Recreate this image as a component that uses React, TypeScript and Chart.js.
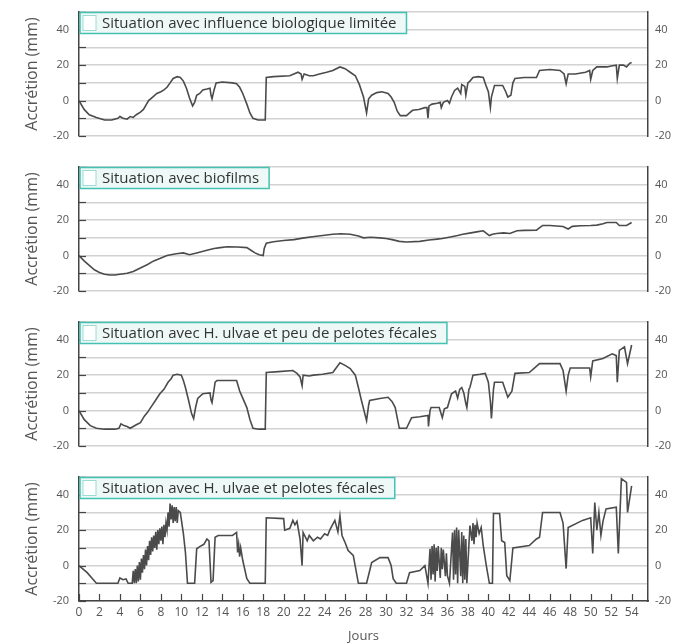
import React, { useEffect, useRef } from 'react';
import { Chart, registerables } from 'chart.js';

Chart.register(...registerables);

const FONT = '"Open Sans", "DejaVu Sans", sans-serif';

const panelTitles = [
  'Situation avec influence biologique limitée',
  'Situation avec biofilms',
  'Situation avec H. ulvae et peu de pelotes fécales',
  'Situation avec H. ulvae et pelotes fécales',
];

const yLabelValues = [-20, 0, 20, 40];
const yAxisTitle = 'Accrétion (mm)';
const xAxisTitle = 'Jours';

// Panel 1 : influence biologique limitée
const p1Days = [0, 0.5, 1, 1.7, 2.5, 3.2, 3.8, 4, 4.3, 4.7, 5, 5.3, 5.6, 6, 6.3, 6.6, 6.8, 7.2, 7.6, 8, 8.3, 8.6, 8.9, 9.2, 9.6, 9.9, 10.2, 10.5, 10.8, 11.1, 11.3, 11.5, 11.8, 12.1, 12.5, 12.8, 12.9, 13, 13.2, 13.4, 14, 15, 15.4, 15.7, 16, 16.4, 16.7, 17, 17.5, 18.2, 18.3, 19, 20.6, 21.4, 21.7, 21.8, 22, 22.5, 22.9, 23.5, 24.2, 24.8, 25.5, 26, 26.5, 27, 27.4, 27.8, 28.1, 28.3, 28.6, 29.1, 29.6, 30.2, 30.5, 30.8, 31.1, 31.4, 32, 32.3, 32.6, 33.2, 33.8, 34, 34.1, 34.2, 34.5, 35, 35.3, 35.4, 35.6, 36, 36.2, 36.4, 36.7, 37, 37.3, 37.4, 37.7, 37.8, 38, 38.2, 38.5, 39, 39.5, 39.8, 40, 40.2, 40.3, 40.6, 41, 41.4, 41.7, 41.9, 42.2, 42.4, 42.6, 43.5, 44.7, 45, 46, 47, 47.4, 47.6, 47.8, 48.5, 49.5, 49.9, 50, 50.2, 50.6, 51.2, 51.6, 52, 52.5, 52.6, 52.8, 53.2, 53.5, 53.8, 54];
const p1Values = [0, -5, -8, -9.5, -11, -11, -10, -9, -10, -10.5, -9, -9.5, -8, -6.5, -5, -2, 0, 2, 4, 5, 6, 7.5, 10, 12.5, 13.5, 13, 11, 7, 1.5, -3, -1, 3, 4, 6, 6.5, 7, 3, 1, 6, 10, 10.5, 10, 9.5, 7.5, 4, -2, -7, -10, -11, -11, 13, 13.5, 14, 16, 15, 12, 15, 14, 14, 15, 16, 17, 19, 18, 16, 14, 9, 2, -7, 1, 3, 4.5, 5, 4, 2, -1, -6, -8.5, -8.5, -7, -5.5, -5, -4, -4, -10, -3, -2, -1.5, -1, -4, -1, 0, -1.5, 2, 5.7, 7, 4, 9, 8, 3, 10, 11, 13, 13.5, 13, 8, 5, -4, 2, 8.5, 8.5, 8.5, 5, 2, 3, 10, 12.5, 13, 13, 17, 17.5, 17, 15, 9.5, 15, 15, 16, 17, 12, 17, 19, 19, 19, 19.5, 20, 12.5, 20, 20, 19, 21, 21.5];

// Panel 2 : biofilms
const p2Days = [0, 0.5, 1, 1.5, 2, 2.5, 3, 3.5, 4, 4.7, 5.3, 6, 6.7, 7.3, 7.9, 8.6, 9.5, 10.2, 10.8, 11.5, 12.5, 13.2, 13.8, 14.5, 15.5, 16.4, 16.8, 17.2, 17.6, 18, 18.1, 18.3, 19, 20, 21, 22, 23, 24, 24.8, 25.6, 26.5, 27.3, 27.8, 28.5, 29.4, 30, 30.6, 31.3, 32, 33.3, 34.2, 35, 35.5, 36.3, 37, 37.5, 38.3, 39, 39.5, 40.1, 40.4, 40.8, 41.5, 42.1, 42.8, 43.5, 44.7, 45.3, 46, 47.3, 47.8, 48.2, 49, 50, 50.6, 51.2, 51.6, 52.5, 52.8, 53.5, 54];
const p2Values = [0, -3, -5.5, -8, -9.5, -10.5, -11, -11, -10.5, -10, -9, -7, -5, -3, -1.7, 0, 1, 1.5, 0.5, 1.5, 3, 4, 4.5, 5, 4.8, 4.5, 3, 1.5, 0.5, 0, 4, 7, 7.8, 8.5, 9, 10, 10.8, 11.5, 12, 12.3, 12, 11, 10, 10.3, 10, 9.6, 9, 8, 7.7, 8, 8.8, 9.3, 9.6, 10.5, 11.3, 12, 12.8, 13.5, 14, 11.3, 12, 12.5, 12.8, 12.5, 14, 14.2, 14.3, 17, 17, 16.4, 15, 16.5, 16.8, 17, 17.2, 18, 18.7, 18.7, 17, 17, 18.7];

// Panel 3 : H. ulvae et peu de pelotes fécales
const p3Days = [0, 0.5, 1.1, 1.7, 2.5, 3.5, 3.9, 4.1, 4.4, 4.7, 5, 5.3, 5.6, 6, 6.4, 6.7, 7, 7.5, 7.9, 8.3, 8.7, 9, 9.2, 9.6, 10, 10.2, 10.4, 10.7, 11, 11.2, 11.4, 11.6, 12.1, 12.5, 12.8, 12.9, 13, 13.2, 13.3, 13.5, 14.5, 15.4, 15.6, 15.7, 16, 16.4, 16.7, 17, 17.6, 18.2, 18.3, 19.5, 20.9, 21.3, 21.6, 21.8, 21.9, 22.5, 22.9, 23.8, 24.8, 25.5, 26, 26.5, 27, 27.3, 27.6, 28.1, 28.3, 28.4, 29.4, 30.2, 30.6, 30.9, 31.3, 32, 32.5, 33.3, 34.1, 34.15, 34.3, 34.4, 35.2, 35.5, 35.7, 36, 36.4, 36.8, 37, 37.2, 37.4, 37.6, 37.8, 37.9, 38.1, 38.2, 38.5, 39.2, 39.7, 40, 40.2, 40.3, 40.5, 40.6, 41.4, 41.9, 42.3, 42.6, 44, 45, 47, 47.3, 47.6, 47.8, 48, 49.9, 50, 50.2, 51.2, 52.1, 52.5, 52.6, 52.8, 53.3, 53.6, 54];
const p3Values = [0, -5, -8.5, -10, -10.5, -10.5, -10, -7.5, -8.5, -9, -10, -9, -8, -6.8, -3, -1, 1.7, 6, 9.5, 12, 16, 18, 20, 20.5, 20, 17, 13, 6, -1.7, -4.5, 2, 6.8, 9.5, 9.8, 10, 6, 4.5, 12, 16, 17, 17, 17, 13, 11, 7, 1.7, -5, -10, -10.5, -10.5, 21.5, 22, 22.6, 21, 19, 14, 20, 19.5, 20, 20.5, 21.5, 27, 25.5, 23.7, 20, 13, 5.7, -5.7, 3, 5.7, 6.8, 7.5, 5, 1.7, -10, -10, -4, -3.5, -2.8, -9, 0, 1.7, 1.7, -4, 1, 1.7, 9.5, 11, 7, 12, 13, 10, 4, 1.7, 12, 13, 20, 20.5, 21, 16, 5, -4.5, 12, 16, 16, 7.5, 11, 21, 21.5, 26.5, 26.5, 22.6, 11, 20, 24, 24, 19, 28, 29.4, 32, 31, 16, 34, 36, 26.5, 37];

// Panel 4 : H. ulvae et pelotes fécales
const p4Days = [0, 0.8, 1.7, 3.8, 4, 4.3, 4.6, 4.8, 5.2, 5.3, 5.4, 5.5, 5.6, 5.7, 5.8, 5.9, 6, 6.1, 6.2, 6.3, 6.4, 6.5, 6.6, 6.7, 6.8, 6.9, 7, 7.1, 7.2, 7.3, 7.4, 7.5, 7.6, 7.7, 7.8, 7.9, 8, 8.1, 8.2, 8.3, 8.4, 8.5, 8.6, 8.7, 8.8, 8.9, 9, 9.1, 9.2, 9.3, 9.4, 9.5, 9.6, 9.7, 9.9, 10, 10.2, 10.4, 10.6, 11.3, 11.5, 11.8, 12.2, 12.5, 12.7, 12.9, 13.1, 13.3, 13.6, 15, 15.4, 15.5, 15.6, 15.7, 15.8, 16, 16.4, 16.7, 18.2, 18.3, 20, 20.1, 20.6, 20.9, 21.1, 21.3, 21.6, 21.8, 21.9, 22.3, 22.5, 22.9, 23.3, 23.6, 24, 24.3, 24.5, 25, 25.3, 25.5, 25.7, 26, 26.3, 26.8, 27.3, 28.1, 28.6, 29.4, 30.2, 30.5, 30.7, 31, 32, 32.3, 33.3, 33.8, 34.1, 34.3, 34.4, 34.5, 34.6, 34.7, 34.8, 34.9, 35, 35.1, 35.3, 35.4, 35.5, 35.6, 35.8, 35.9, 36, 36.2, 36.5, 36.6, 36.7, 36.8, 36.9, 37, 37.1, 37.3, 37.4, 37.5, 37.6, 37.7, 37.8, 37.9, 38.2, 38.4, 38.5, 38.6, 38.7, 38.8, 38.9, 39.1, 39.3, 39.5, 39.8, 40.1, 40.4, 40.5, 41.1, 41.3, 41.6, 41.8, 42.1, 42.4, 44, 44.7, 45, 45.3, 47, 47.3, 47.6, 47.8, 49.2, 50, 50.2, 50.4, 50.6, 50.8, 51, 51.2, 51.5, 52.5, 52.7, 53, 53.5, 53.6, 54];
const p4Values = [0, -4, -10, -10, -7, -8, -7.5, -10, -10, -3, -10, -2, -10, 0, -9, 2, -8, 4, -4, 6, -2, 9, 0, 11, 3, 14, 6, 16, 8, 17, 10, 19, 9, 20, 12, 21, 14, 22, 12, 23, 16, 24, 20, 30, 22, 35, 26, 34, 24, 33, 25, 33, 24, 31, 30, 26, 18, 7.4, -10, -10, 9.5, 10.7, 12, 15, 14, -9.5, -8.5, 16, 17, 17, 18.7, 7.4, 12, 5, 10, 3, -7.4, -10, -10, 27, 26.5, 20, 21, 25.5, 23, 25, 15, 0, 18.7, 14, 17, 14, 16, 15, 18, 17, 20, 25.5, 19, 28, 17, 13, 8.5, 5.7, -10, -10, 1.7, 4.5, 4.5, 0, -7.4, -10, -10, -4, -2.8, 0, -10, 9.5, -8, 11, -5, 12, -9, 10, -3, 11, -7, 10, -2, 9, -6, 7, -5.7, -10, 18.7, -8, 20, -5, 21.5, -10, 20, -6, 19, -10, 17, -8, 15, -10, 22.6, 14, 24, 12, 23, 16, 24, 18, 21.5, 11.3, 0, -10, -10, 29.4, 29.4, 14, 13, -5.7, -8.5, 10, 11.3, 15, 16, 30, 30, 24, -1.7, 21.5, 25.5, 27, 6.8, 35.6, 20, 30, 17, 25, 32, 33, 6.8, 49, 47, 30, 45];

const seriesDays = [p1Days, p2Days, p3Days, p4Days];
const seriesValues = [p1Values, p2Values, p3Values, p4Values];

const X_MAX = 55.6;
const PLOT_TOPS = [12, 167, 322, 477];
const PLOT_H = 124;

const decorPlugin = {
  id: 'decor',
  afterDraw(chart: any, _args: any, opts: any) {
    const { ctx, chartArea: a, scales } = chart;
    ctx.save();
    ctx.strokeStyle = '#444';
    ctx.lineWidth = 1.2;
    scales.y.ticks.forEach((t: any) => {
      const py = Math.round(scales.y.getPixelForValue(t.value)) + 0.5;
      ctx.beginPath();
      ctx.moveTo(a.left, py);
      ctx.lineTo(a.left + 7, py);
      ctx.stroke();
    });
    if (opts.bottom) {
      scales.x.ticks.forEach((t: any) => {
        const px = Math.round(scales.x.getPixelForValue(t.value)) + 0.5;
        ctx.beginPath();
        ctx.moveTo(px, a.bottom);
        ctx.lineTo(px, a.bottom - 7);
        ctx.stroke();
      });
    }
    // title box
    ctx.font = `15px ${FONT}`;
    const tw = ctx.measureText(opts.title).width;
    const bx = a.left + 1;
    const by = a.top + 0.5;
    const bh = 21;
    const bw = 23 + tw + 9;
    ctx.fillStyle = '#eef9f7';
    ctx.fillRect(bx, by, bw, bh);
    ctx.strokeStyle = '#45c1b4';
    ctx.lineWidth = 1.5;
    ctx.strokeRect(bx, by, bw, bh);
    ctx.fillStyle = '#ffffff';
    ctx.fillRect(bx + 3, by + 3, 13, bh - 6);
    ctx.strokeStyle = '#9adcd3';
    ctx.lineWidth = 1;
    ctx.strokeRect(bx + 3, by + 3, 13, bh - 6);
    ctx.fillStyle = '#333';
    ctx.textBaseline = 'middle';
    ctx.textAlign = 'left';
    ctx.fillText(opts.title, bx + 22, by + bh / 2 + 0.5);
    ctx.restore();
  },
};

function Panel({ index }: { index: number }) {
  const ref = useRef<HTMLCanvasElement | null>(null);
  const isBottom = index === 3;
  const top = PLOT_TOPS[index] - 10;
  const height = isBottom ? 644 - top : PLOT_H + 20;

  useEffect(() => {
    if (!ref.current) return;
    const days = seriesDays[index];
    const vals = seriesValues[index];
    const yTickCb = (v: any) => (yLabelValues.includes(Number(v)) ? String(v) : '');
    const fixPad = (s: any) => {
      s.paddingTop = 0;
      s.paddingBottom = 0;
    };
    const xScale: any = {
      type: 'linear',
      display: isBottom,
      min: 0,
      max: X_MAX,
      ticks: {
        stepSize: 2,
        includeBounds: false,
        autoSkip: false,
        maxRotation: 0,
        color: '#555',
        font: { size: 12, family: FONT },
        padding: 4,
      },
      grid: { display: false, drawTicks: false },
      border: { display: true, color: '#444', width: 1.5 },
      title: {
        display: true,
        text: xAxisTitle,
        color: '#555',
        font: { size: 13, family: FONT },
        padding: { top: 0, bottom: 0 },
      },
    };
    if (isBottom) {
      xScale.afterFit = (s: any) => {
        s.height = 43;
        s.paddingLeft = 0;
        s.paddingRight = 0;
      };
    }
    const chart = new Chart(ref.current, {
      type: 'line',
      data: {
        datasets: [
          {
            data: days.map((d, i) => ({ x: d, y: vals[i] })),
            borderColor: '#4b4b4b',
            borderWidth: 1.6,
            pointRadius: 0,
            tension: 0,
            fill: false,
          },
        ],
      },
      options: {
        responsive: false,
        animation: false,
        devicePixelRatio: 1,
        layout: { padding: { top: 10, bottom: isBottom ? 0 : 10, left: 0, right: 0 } },
        plugins: {
          legend: { display: false },
          tooltip: { enabled: false },
          decor: { title: panelTitles[index], bottom: isBottom },
        } as any,
        scales: {
          x: xScale,
          y: {
            type: 'linear',
            position: 'left',
            min: -20,
            max: 50,
            ticks: {
              stepSize: 10,
              callback: yTickCb,
              color: '#555',
              font: { size: 11, family: FONT },
              padding: 10,
            },
            grid: { color: '#d2d2d2', lineWidth: 1.5, drawTicks: false },
            border: { display: true, color: '#444', width: 1.5 },
            title: {
              display: true,
              text: yAxisTitle,
              color: '#555',
              font: { size: 16, family: FONT },
              padding: { top: 23, bottom: 0 },
            },
            afterFit: (s: any) => {
              s.width = 79;
              fixPad(s);
            },
          },
          y2: {
            type: 'linear',
            position: 'right',
            min: -20,
            max: 50,
            ticks: {
              stepSize: 10,
              callback: yTickCb,
              color: '#555',
              font: { size: 11, family: FONT },
              padding: 7,
            },
            grid: { display: false, drawTicks: false },
            border: { display: true, color: '#444', width: 1.5 },
            afterFit: (s: any) => {
              s.width = 26;
              fixPad(s);
            },
          },
        },
      } as any,
      plugins: [decorPlugin],
    });
    return () => chart.destroy();
  }, [index]);

  return (
    <canvas
      ref={ref}
      width={674}
      height={height}
      style={{ position: 'absolute', left: 0, top, width: 674, height }}
    />
  );
}

export default function App() {
  return (
    <div style={{ position: 'absolute', left: 0, top: 0, width: 674, height: 644, background: '#fff' }}>
      {[0, 1, 2, 3].map((i) => (
        <Panel key={i} index={i} />
      ))}
    </div>
  );
}
